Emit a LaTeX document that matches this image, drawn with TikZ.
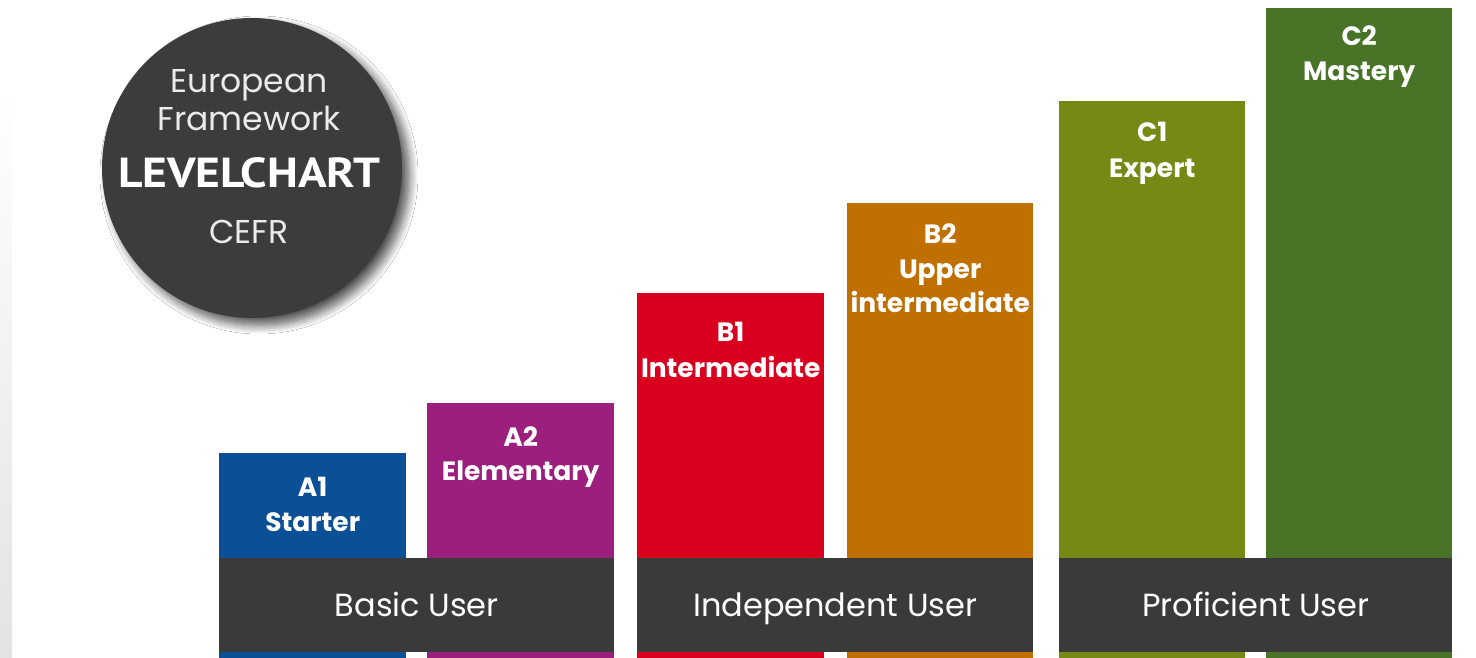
\documentclass[tikz,border=0pt]{standalone}
\usepackage{fontspec}
\setmainfont{Poppins}
\newfontfamily\headfont{PT Sans}
\usetikzlibrary{shadows.blur}
\definecolor{cAone}{HTML}{0B4F97}
\definecolor{cAtwo}{HTML}{9C1F7E}
\definecolor{cBone}{HTML}{D8001E}
\definecolor{cBtwo}{HTML}{BF7000}
\definecolor{cCone}{HTML}{758914}
\definecolor{cCtwo}{HTML}{497428}
\definecolor{bandgray}{HTML}{3A3A3B}
\definecolor{discgray}{HTML}{3C3C3C}
\begin{document}
\begin{tikzpicture}[x=1pt,y=-1pt,
  levelbar/.style={anchor=north west, inner sep=0pt, minimum width=187pt},
  lvltext/.style={anchor=base, text=white, inner sep=0pt, font=\bfseries\fontsize{26.5}{28}\selectfont},
  userband/.style={anchor=north west, fill=bandgray, inner sep=0pt, minimum height=94pt, text=white, text height=22pt, text depth=0pt, font=\fontsize{32}{34}\selectfont},
  disctext/.style={anchor=base, text=white!92!black, inner sep=0pt, font=\fontsize{33}{36}\selectfont}]
\useasboundingbox (0,0) rectangle (1476,658);
\fill[white] (0,0) rectangle (1476,658);
\shade[top color=white, bottom color=black!11] (0,90) rectangle (12,658);

% bars
\node[levelbar, fill=cAone, minimum height=205pt] (A1) at (219,453) {};
\node[levelbar, fill=cAtwo, minimum height=255pt] (A2) at (427,403) {};
\node[levelbar, fill=cBone, minimum height=365pt] (B1) at (637,293) {};
\node[levelbar, fill=cBtwo, minimum height=455pt, minimum width=186pt] (B2) at (847,203) {};
\node[levelbar, fill=cCone, minimum height=557pt, minimum width=186pt] (C1) at (1059,101) {};
\node[levelbar, fill=cCtwo, minimum height=650pt, minimum width=186pt] (C2) at (1266,8) {};

% bar labels
\node[lvltext] (A1a) at ([yshift=-43pt]A1.north) {A1};
\node[lvltext] (A1b) at ([yshift=-78pt]A1.north) {Starter};
\node[lvltext] (A2a) at ([yshift=-43pt]A2.north) {A2};
\node[lvltext] (A2b) at ([yshift=-77pt]A2.north) {Elementary};
\node[lvltext] (B1a) at ([yshift=-48pt]B1.north) {B1};
\node[lvltext] (B1b) at ([yshift=-84pt]B1.north) {Intermediate};
\node[lvltext] (B2a) at ([yshift=-40pt]B2.north) {B2};
\node[lvltext] (B2b) at ([yshift=-75pt]B2.north) {Upper};
\node[lvltext] (B2c) at ([yshift=-109pt]B2.north) {intermediate};
\node[lvltext] (C1a) at ([yshift=-41pt]C1.north) {C1};
\node[lvltext] (C1b) at ([yshift=-77pt]C1.north) {Expert};
\node[lvltext] (C2a) at ([yshift=-38pt]C2.north) {C2};
\node[lvltext] (C2b) at ([yshift=-73pt]C2.north) {Mastery};

% user bands
\node[userband, minimum width=395pt] (basic) at (219,558) {Basic User};
\node[userband, minimum width=396pt] (indep) at (637,558) {Independent User};
\node[userband, minimum width=393pt] (profi) at (1059,558) {Proficient User};

% logo disc
\node[circle, fill=discgray, inner sep=0pt, minimum size=300pt,
  blur shadow={shadow xshift=7pt, shadow yshift=-7pt, shadow blur radius=9pt, shadow blur steps=12, shadow opacity=70}] (logo) at (252,168) {};
\node[disctext] (eur) at (249,93) {European};
\node[disctext] (fram) at (249,131) {Framework};
\node[disctext, font=\headfont\bfseries\fontsize{42}{44}\selectfont, text=white] (lvc) at (249,188) {\scalebox{1.13}[1]{LEVELCHART}};
\node[disctext] (cefr) at (249,243) {CEFR};
\end{tikzpicture}
\end{document}
